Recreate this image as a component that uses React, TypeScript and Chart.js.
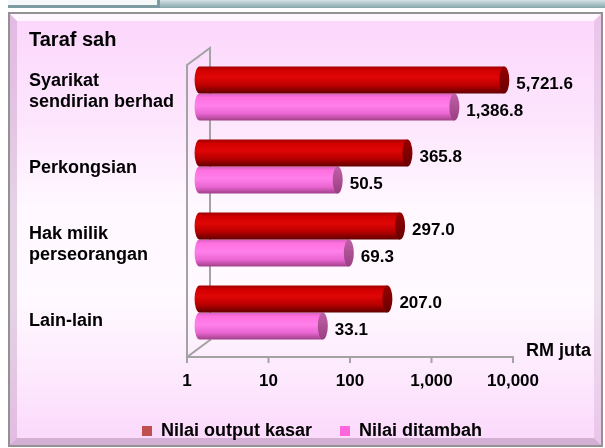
import React, { useEffect, useRef } from 'react';
import { Chart, registerables } from 'chart.js';

Chart.register(...registerables);

// ---------- data ----------
const chartTitle = 'Taraf sah';
const categories: (string | string[])[] = [
  ['Syarikat', 'sendirian berhad'],
  'Perkongsian',
  ['Hak milik', 'perseorangan'],
  'Lain-lain',
];
const seriesNames = ['Nilai output kasar', 'Nilai ditambah'];
const grossOutput = [5721.6, 365.8, 297.0, 207.0];
const valueAdded = [1386.8, 50.5, 69.3, 33.1];
const xTickValues = [1, 10, 100, 1000, 10000];
const xAxisUnit = 'RM juta';

// ---------- style ----------
const FONT = "'Liberation Sans', Arial, Helvetica, sans-serif";
const legendColors = ['#c0504d', '#ff66dd'];
const DEPTH_DX = 23;
const DEPTH_DY = 17;
const FRONT_DY = 8;
const BAR_SHIFT_DECADES = 0.135;
const CAP_RX = 5;
const LABEL_MIN = -0.452;
const LABEL_MAX = 3.36;

const cylinderStyles = [
  {
    stops: [
      [0, '#a00000'],
      [0.15, '#d20000'],
      [0.4, '#e00606'],
      [0.7, '#bb0000'],
      [1, '#620000'],
    ],
    cap: '#960000',
    capEdge: '#6a0000',
  },
  {
    stops: [
      [0, '#d860c0'],
      [0.15, '#ff70e0'],
      [0.45, '#ff80ea'],
      [0.75, '#ea66d2'],
      [1, '#a04088'],
    ],
    cap: '#c060a8',
    capEdge: '#984080',
  },
];

const fmtValue = (v: number) =>
  v.toLocaleString('en-US', { minimumFractionDigits: 1, maximumFractionDigits: 1 });

function poly(ctx: CanvasRenderingContext2D, pts: number[][], fill: string | CanvasGradient) {
  ctx.beginPath();
  ctx.moveTo(pts[0][0], pts[0][1]);
  for (let i = 1; i < pts.length; i++) ctx.lineTo(pts[i][0], pts[i][1]);
  ctx.closePath();
  ctx.fillStyle = fill;
  ctx.fill();
}

const framePlugin = {
  id: 'frame',
  beforeDraw(chart: any) {
    const { ctx, width, height } = chart;
    ctx.save();
    ctx.fillStyle = '#ffffff';
    ctx.fillRect(0, 0, width, height);
    // top strip
    const sg = ctx.createLinearGradient(0, 0, 0, 8);
    sg.addColorStop(0, '#d4e2e4');
    sg.addColorStop(1, '#86a6ac');
    ctx.fillStyle = sg;
    ctx.fillRect(158, 0, width - 158, 8);
    ctx.fillStyle = '#f4f8f8';
    ctx.fillRect(8, 0, 150, 5);
    ctx.fillStyle = '#7c9ca2';
    ctx.fillRect(8, 5, 152, 3);
    ctx.fillRect(157, 0, 3, 8);
    // panel
    const L = 8, T = 12, R = 603, B = 447, bw = 7;
    ctx.fillStyle = '#929292';
    ctx.fillRect(L, T, R - L, B - T);
    const iL = L + 2, iT = T + 2, iR = R - 2, iB = B - 2;
    const bg = ctx.createLinearGradient(0, iT, 0, iB);
    bg.addColorStop(0, '#fcd6fc');
    bg.addColorStop(0.25, '#fde6fd');
    bg.addColorStop(0.45, '#fff8ff');
    bg.addColorStop(0.65, '#fffaff');
    bg.addColorStop(0.85, '#fde8fd');
    bg.addColorStop(1, '#fbd8fb');
    ctx.fillStyle = bg;
    ctx.fillRect(iL, iT, iR - iL, iB - iT);
    poly(ctx, [[iL, iT], [iR, iT], [iR - bw, iT + bw], [iL + bw, iT + bw]], 'rgba(255,255,255,0.8)');
    poly(ctx, [[iL, iT], [iL + bw, iT + bw], [iL + bw, iB - bw], [iL, iB]], 'rgba(160,110,160,0.28)');
    poly(ctx, [[iR, iT], [iR, iB], [iR - bw, iB - bw], [iR - bw, iT + bw]], 'rgba(160,110,160,0.18)');
    poly(ctx, [[iL, iB], [iR, iB], [iR - bw, iB - bw], [iL + bw, iB - bw]], 'rgba(120,80,120,0.3)');
    ctx.restore();
  },
  beforeDatasetsDraw(chart: any) {
    const { ctx, chartArea } = chart;
    const xs = chart.scales.x;
    const x0 = xs.getPixelForValue(xTickValues[0]);
    const x1 = xs.getPixelForValue(xTickValues[xTickValues.length - 1]);
    const fTop = chartArea.top + FRONT_DY;
    const fBot = chartArea.bottom + FRONT_DY;
    ctx.save();
    ctx.strokeStyle = '#a3a3a3';
    ctx.lineWidth = 2;
    ctx.lineCap = 'square';
    ctx.beginPath();
    ctx.moveTo(x0, fBot + 5);
    ctx.lineTo(x0, fTop);
    ctx.lineTo(x0 + DEPTH_DX, fTop - DEPTH_DY);
    ctx.lineTo(x0 + DEPTH_DX, fBot - DEPTH_DY);
    ctx.moveTo(x0, fBot);
    ctx.lineTo(x0 + DEPTH_DX, fBot - DEPTH_DY);
    ctx.moveTo(x0, fBot);
    ctx.lineTo(x1, fBot);
    xTickValues.forEach((v) => {
      const p = xs.getPixelForValue(v);
      ctx.moveTo(p, fBot);
      ctx.lineTo(p, fBot + 5);
    });
    ctx.stroke();
    ctx.restore();
  },
  beforeDatasetDraw(chart: any, args: any) {
    const ctx = chart.ctx;
    const style = cylinderStyles[args.index];
    ctx.save();
    args.meta.data.forEach((el: any) => {
      const { x, y, base, height } = el.getProps(['x', 'y', 'base', 'height'], true);
      const top = y - height / 2;
      const bottom = y + height / 2;
      const left = Math.min(x, base);
      const right = Math.max(x, base);
      const g = ctx.createLinearGradient(0, top, 0, bottom);
      style.stops.forEach(([o, c]: any) => g.addColorStop(o, c));
      ctx.beginPath();
      ctx.moveTo(right, top);
      ctx.lineTo(left, top);
      ctx.ellipse(left, y, CAP_RX, height / 2, 0, -Math.PI / 2, Math.PI / 2, true);
      ctx.lineTo(right, bottom);
      ctx.closePath();
      ctx.fillStyle = g;
      ctx.fill();
      const cg = ctx.createLinearGradient(0, top, 0, bottom);
      cg.addColorStop(0, style.cap);
      cg.addColorStop(1, style.capEdge);
      ctx.beginPath();
      ctx.ellipse(right, y, CAP_RX, height / 2, 0, 0, Math.PI * 2);
      ctx.fillStyle = cg;
      ctx.fill();
    });
    ctx.restore();
    return false;
  },
  afterDatasetsDraw(chart: any) {
    const ctx = chart.ctx;
    ctx.save();
    ctx.font = `bold 17px ${FONT}`;
    ctx.fillStyle = '#000000';
    ctx.textAlign = 'left';
    ctx.textBaseline = 'middle';
    chart.data.datasets.forEach((ds: any, i: number) => {
      const meta = chart.getDatasetMeta(i);
      meta.data.forEach((el: any, j: number) => {
        const { x, y } = el.getProps(['x', 'y'], true);
        ctx.fillText(fmtValue(ds.data[j]), x + CAP_RX + 7, y + 4);
      });
    });
    ctx.restore();
  },
  afterDraw(chart: any) {
    const { ctx, chartArea } = chart;
    ctx.save();
    ctx.font = `bold 18px ${FONT}`;
    ctx.fillStyle = '#000000';
    ctx.textAlign = 'right';
    ctx.textBaseline = 'middle';
    ctx.fillText(xAxisUnit, chartArea.right + 78, chartArea.bottom + 2);
    ctx.restore();
  },
};

export default function App() {
  const ref = useRef<HTMLCanvasElement | null>(null);

  useEffect(() => {
    if (!ref.current) return;
    const chart = new Chart(ref.current, {
      type: 'bar',
      data: {
        labels: categories,
        datasets: [
          {
            label: seriesNames[0],
            data: grossOutput,
            backgroundColor: legendColors[0],
            borderWidth: 0,
            xAxisID: 'xb',
            yAxisID: 'y',
            base: 1,
            categoryPercentage: 0.74,
            barPercentage: 1,
          } as any,
          {
            label: seriesNames[1],
            data: valueAdded,
            backgroundColor: legendColors[1],
            borderWidth: 0,
            xAxisID: 'xb',
            yAxisID: 'y',
            base: 1,
            categoryPercentage: 0.74,
            barPercentage: 1,
          } as any,
        ],
      },
      options: {
        responsive: false,
        animation: false,
        indexAxis: 'y',
        layout: { padding: { left: 29, right: 10, top: 14, bottom: -2 } },
        plugins: {
          title: {
            display: true,
            text: chartTitle,
            align: 'start',
            color: '#000000',
            font: { family: FONT, size: 20, weight: 'bold', lineHeight: 1.2 },
            padding: { top: 14, bottom: 5 },
          },
          legend: {
            position: 'bottom',
            labels: {
              boxWidth: 10,
              boxHeight: 10,
              padding: 28,
              color: '#000000',
              font: { family: FONT, size: 18, weight: 'bold' },
            },
          },
          tooltip: { enabled: false },
        },
        scales: {
          x: {
            type: 'logarithmic',
            position: 'bottom',
            min: xTickValues[0],
            max: xTickValues[xTickValues.length - 1],
            grid: { display: false, drawTicks: false },
            border: { display: false },
            ticks: {
              padding: 22,
              color: '#000000',
              maxRotation: 0,
              autoSkip: false,
              font: { family: FONT, size: 17, weight: 'bold' },
              callback: (v: any) => Number(v).toLocaleString('en-US'),
            },
            afterBuildTicks: (s: any) => {
              s.ticks = xTickValues.map((v) => ({ value: v }));
            },
            afterFit: (s: any) => {
              s.height = 45;
            },
          },
          xb: {
            type: 'logarithmic',
            display: false,
            min: Math.pow(10, -BAR_SHIFT_DECADES),
            max: Math.pow(10, Math.log10(xTickValues[xTickValues.length - 1]) - BAR_SHIFT_DECADES),
          },
          y: {
            type: 'category',
            display: false,
            offset: true,
          },
          yL: {
            type: 'linear',
            position: 'left',
            reverse: true,
            offset: false,
            bounds: 'data',
            min: LABEL_MIN,
            max: LABEL_MAX,
            grid: { display: false, drawTicks: false, offset: false },
            border: { display: false },
            ticks: {
              padding: 0,
              crossAlign: 'far',
              color: '#000000',
              autoSkip: false,
              font: { family: FONT, size: 18, weight: 'bold', lineHeight: 1.17 },
              callback: (v: any) => categories[Math.round(Number(v))] as any,
            },
            afterBuildTicks: (s: any) => {
              s.min = LABEL_MIN;
              s.max = LABEL_MAX;
              s.ticks = categories.map((_, i) => ({ value: i }));
            },
            afterFit: (s: any) => {
              s.width = 158;
            },
          },
          yR: {
            type: 'linear',
            position: 'right',
            offset: false,
            grid: { display: false, drawTicks: false },
            border: { display: false },
            ticks: { display: false },
            afterFit: (s: any) => {
              s.width = 82;
            },
          },
        },
      } as any,
      plugins: [framePlugin as any],
    });
    return () => chart.destroy();
  }, []);

  return (
    <div style={{ position: 'absolute', left: 0, top: 0, width: 605, height: 448 }}>
      <canvas ref={ref} width={605} height={448} style={{ display: 'block' }} />
    </div>
  );
}
